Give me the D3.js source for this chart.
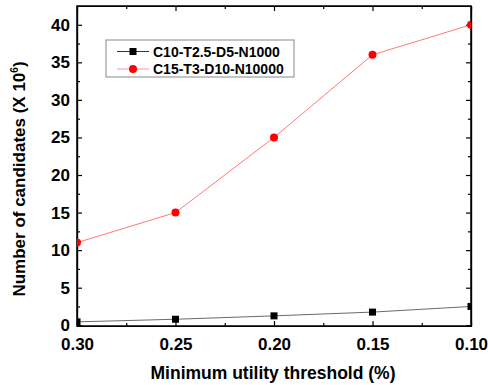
<!DOCTYPE html>
<html>
<head>
<meta charset="utf-8">
<script src="https://cdn.jsdelivr.net/npm/d3@7"></script>
<style>
  body { margin: 0; background: #fff; }
  text { font-family: "Liberation Sans", Arial, sans-serif; font-weight: bold; }
</style>
</head>
<body>
<div id="chart"></div>
<script>
// data
const thresholds = [0.30, 0.25, 0.20, 0.15, 0.10];
const seriesA = [0.45, 0.8, 1.25, 1.75, 2.5];    // C10-T2.5-D5-N1000
const seriesB = [11, 15, 25, 36, 40];            // C15-T3-D10-N10000
const seriesNames = ['C10-T2.5-D5-N1000', 'C15-T3-D10-N10000'];
const xTicks = [0.30, 0.25, 0.20, 0.15, 0.10];
const yTicks = [0, 5, 10, 15, 20, 25, 30, 35, 40];

const width = 488, height = 385;
const margin = {top: 6, right: 17, bottom: 59, left: 77};

const svg = d3.select('#chart')
  .append('svg')
  .attr('width', width)
  .attr('height', height);

// scales
const xScale = d3.scaleLinear()
  .domain([0.30, 0.10])
  .range([margin.left, width - margin.right]);

const yScale = d3.scaleLinear()
  .domain([-0.1, 42.5])
  .range([height - margin.bottom, margin.top]);

const x0 = margin.left, x1 = width - margin.right;
const y0 = height - margin.bottom, y1 = margin.top;

// minor tick values
const xMinor = d3.range(0.275, 0.09, -0.05);
const yMinor = d3.range(2.5, 42, 5);

// axes (ticks pointing inward)
const axisStyle = g => {
  g.select('.domain').attr('stroke', '#000').attr('stroke-width', 1.2);
  g.selectAll('.tick line').attr('stroke', '#000').attr('stroke-width', 1.2);
};

svg.append('g')
  .attr('transform', `translate(0,${y0})`)
  .call(d3.axisBottom(xScale).tickValues(xTicks).tickFormat(d3.format('.2f')).tickSizeInner(-5).tickSizeOuter(0).tickPadding(11.5))
  .call(axisStyle)
  .call(g => g.selectAll('text').attr('font-size', 17).attr('fill', '#000'));

svg.append('g')
  .attr('transform', `translate(0,${y0})`)
  .call(d3.axisBottom(xScale).tickValues(xMinor).tickFormat('').tickSizeInner(-3).tickSizeOuter(0))
  .call(axisStyle);

svg.append('g')
  .attr('transform', `translate(0,${y1})`)
  .call(d3.axisTop(xScale).tickValues(xTicks).tickFormat('').tickSizeInner(-5).tickSizeOuter(0))
  .call(axisStyle);

svg.append('g')
  .attr('transform', `translate(0,${y1})`)
  .call(d3.axisTop(xScale).tickValues(xMinor).tickFormat('').tickSizeInner(-3).tickSizeOuter(0))
  .call(axisStyle);

svg.append('g')
  .attr('transform', `translate(${x0},0)`)
  .call(d3.axisLeft(yScale).tickValues(yTicks).tickSizeInner(-5).tickSizeOuter(0).tickPadding(7))
  .call(axisStyle)
  .call(g => g.selectAll('text').attr('font-size', 17).attr('fill', '#000'));

svg.append('g')
  .attr('transform', `translate(${x0},0)`)
  .call(d3.axisLeft(yScale).tickValues(yMinor).tickFormat('').tickSizeInner(-3).tickSizeOuter(0))
  .call(axisStyle);

svg.append('g')
  .attr('transform', `translate(${x1},0)`)
  .call(d3.axisRight(yScale).tickValues(yTicks).tickFormat('').tickSizeInner(-5).tickSizeOuter(0))
  .call(axisStyle);

svg.append('g')
  .attr('transform', `translate(${x1},0)`)
  .call(d3.axisRight(yScale).tickValues(yMinor).tickFormat('').tickSizeInner(-3).tickSizeOuter(0))
  .call(axisStyle);

// frame
svg.append('rect')
  .attr('x', x0).attr('y', y1)
  .attr('width', x1 - x0).attr('height', y0 - y1)
  .attr('fill', 'none').attr('stroke', '#000').attr('stroke-width', 1.5);

// lines + markers
const plot = svg.append('g');
plot.append('clipPath').attr('id', 'clip')
  .append('rect').attr('x', x0).attr('y', y1).attr('width', x1 - x0).attr('height', y0 - y1);

const line = d3.line()
  .x((d, i) => xScale(thresholds[i]))
  .y(d => yScale(d));

plot.append('path')
  .attr('d', line(seriesA))
  .attr('fill', 'none').attr('stroke', '#444').attr('stroke-width', 0.8);

plot.append('path')
  .attr('d', line(seriesB))
  .attr('fill', 'none').attr('stroke', '#ff5555').attr('stroke-width', 0.8);

plot.append('g').attr('clip-path', 'url(#clip)')
  .selectAll('rect')
  .data(seriesA)
  .enter()
  .append('rect')
  .attr('x', (d, i) => xScale(thresholds[i]) - 3.5)
  .attr('y', d => yScale(d) - 3.5)
  .attr('width', 7).attr('height', 7)
  .attr('fill', '#000');

plot.append('g').attr('clip-path', 'url(#clip)')
  .selectAll('circle')
  .data(seriesB)
  .enter()
  .append('circle')
  .attr('cx', (d, i) => xScale(thresholds[i]))
  .attr('cy', d => yScale(d))
  .attr('r', 4)
  .attr('fill', '#ff0000');

// legend
const legend = svg.append('g');
legend.append('rect')
  .attr('x', 106).attr('y', 40).attr('width', 188).attr('height', 37)
  .attr('fill', '#fff').attr('stroke', '#888').attr('stroke-width', 1);

const legendRows = legend.selectAll('g.row')
  .data(seriesNames)
  .enter()
  .append('g')
  .attr('class', 'row')
  .attr('transform', (d, i) => `translate(0,${51.5 + i * 17.5})`);

legendRows.append('line')
  .attr('x1', 117).attr('x2', 149).attr('y1', 0).attr('y2', 0)
  .attr('stroke', (d, i) => i === 0 ? '#333' : '#ff9999').attr('stroke-width', 1);

legendRows.filter((d, i) => i === 0).append('rect')
  .attr('x', 129.5).attr('y', -3.5).attr('width', 7).attr('height', 7).attr('fill', '#000');

legendRows.filter((d, i) => i === 1).append('circle')
  .attr('cx', 133).attr('cy', 0).attr('r', 4).attr('fill', '#ff0000');

legendRows.append('text')
  .attr('x', 153).attr('y', 5)
  .attr('font-size', 14)
  .attr('fill', '#000')
  .text(d => d);

// axis titles
svg.append('text')
  .attr('x', 273).attr('y', 379)
  .attr('text-anchor', 'middle')
  .attr('font-size', 17.5)
  .text('Minimum utility threshold (%)');

const yTitle = svg.append('text')
  .attr('transform', `translate(25,179) rotate(-90)`)
  .attr('text-anchor', 'middle')
  .attr('font-size', 17);
yTitle.append('tspan').text('Number of candidates (X 10');
yTitle.append('tspan').attr('font-size', 10).attr('dy', -7).text('6');
yTitle.append('tspan').attr('dy', 7).text(')');
</script>
</body>
</html>
